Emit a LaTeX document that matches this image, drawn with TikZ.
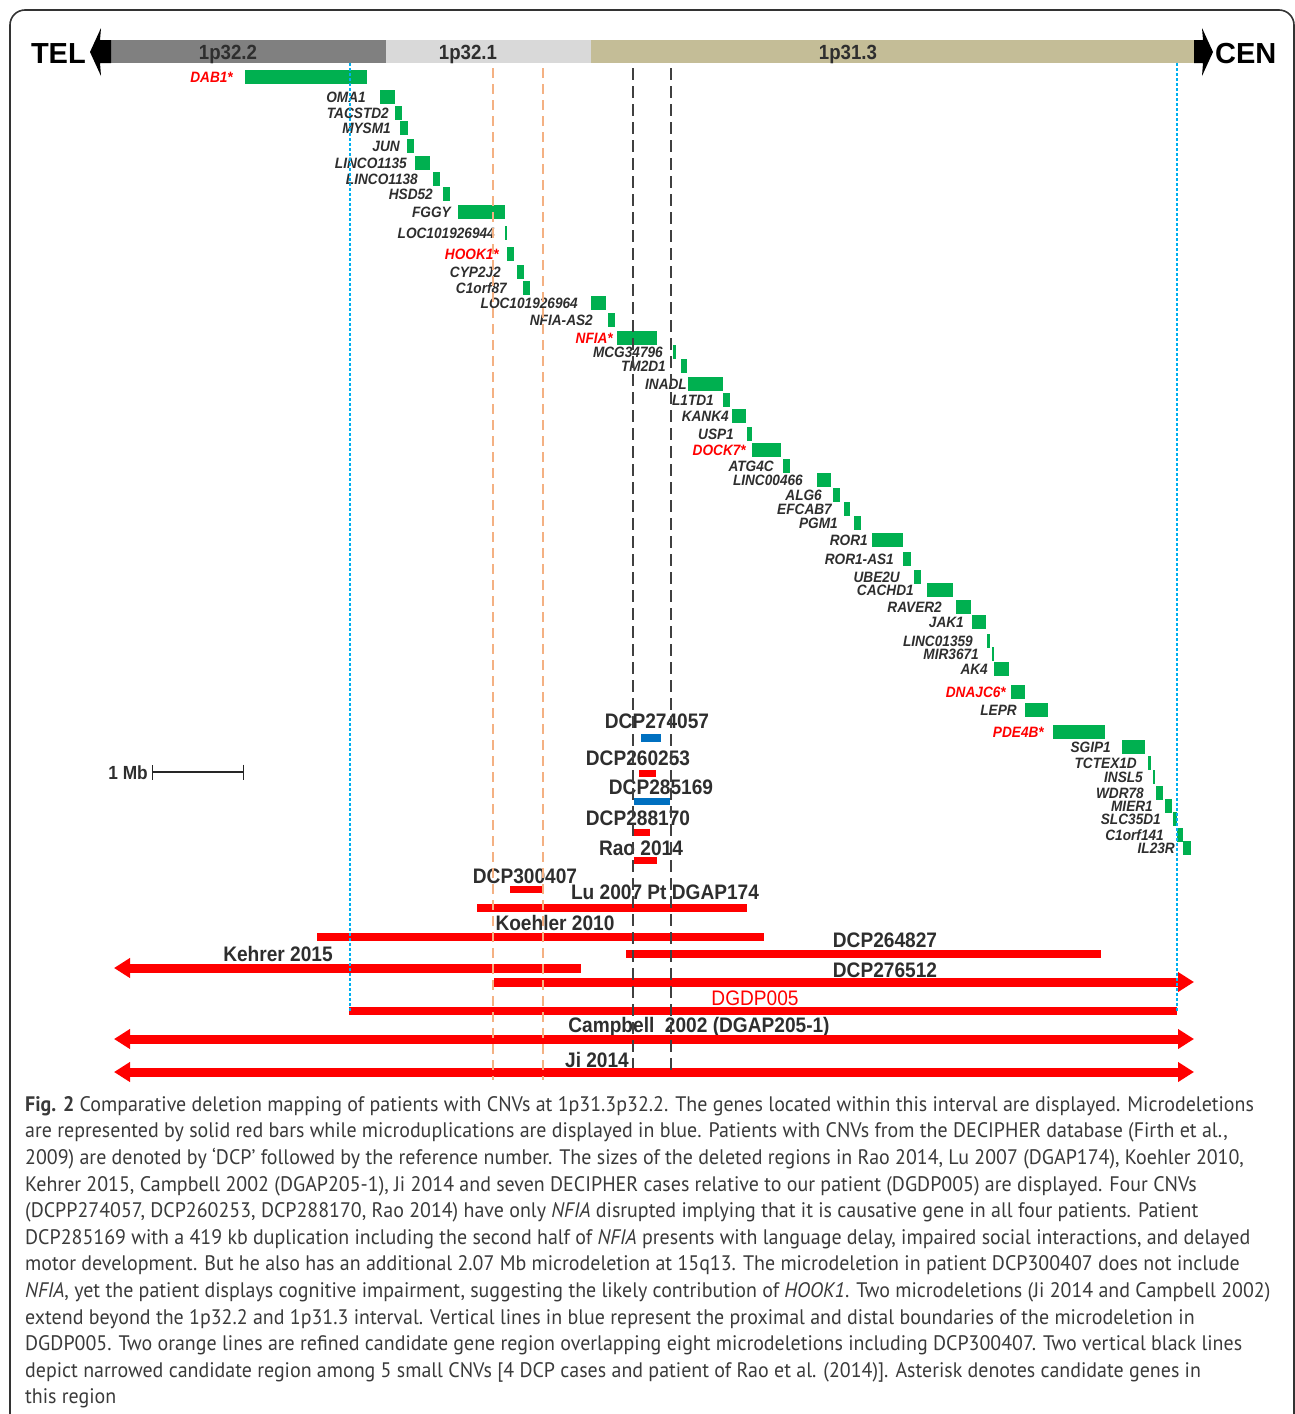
\documentclass[tikz,border=0pt]{standalone}
\usepackage{fontspec}
\setmainfont{PT Sans}[FakeStretch=0.95]
\newfontfamily\arialfont{Liberation Sans}
\newfontfamily\narrowfont{Liberation Sans}[FakeStretch=0.91]
\usetikzlibrary{arrows.meta}

\definecolor{bandA}{HTML}{808080}
\definecolor{bandB}{HTML}{D9D9D9}
\definecolor{bandC}{HTML}{C4BD97}
\definecolor{genegreen}{HTML}{00B050}
\definecolor{genetxt}{HTML}{2E2E2E}
\definecolor{dupblue}{HTML}{0070C0}
\definecolor{delred}{HTML}{FF0000}
\definecolor{bndblue}{HTML}{00B0F0}
\definecolor{candorange}{HTML}{F4B183}
\definecolor{captxt}{HTML}{3A3A3A}

\begin{document}
\begin{tikzpicture}[x=1pt, y=-1pt,
    genelab/.style={font=\narrowfont\bfseries\itshape\fontsize{15}{16}\selectfont,
      inner sep=0pt, text height=10.7pt, text depth=0pt, anchor=east},
    cnvlab/.style={font=\narrowfont\bfseries\fontsize{21}{22}\selectfont, text=genetxt,
      inner sep=0pt, text height=15pt, text depth=0pt},
    bandlab/.style={font=\narrowfont\bfseries\fontsize{20.5}{21}\selectfont, text=genetxt,
      inner sep=0pt, text height=14.7pt, text depth=0pt},
    endlab/.style={font=\arialfont\bfseries\fontsize{29}{30}\selectfont, text=black,
      inner sep=0pt, text height=20.8pt, text depth=0pt},
    delbar/.style={delred, line width=8pt},
    dupbar/.style={dupblue, line width=8pt},
    longbar/.style={delred, line width=9pt},
    bndline/.style={bndblue, line width=1.4pt, dash pattern=on 3pt off 2pt},
    candline/.style={candorange, line width=1.6pt, dash pattern=on 10pt off 6pt},
    narrowline/.style={black!75, line width=1.8pt, dash pattern=on 12pt off 6pt},
    captext/.style={font=\fontsize{21}{26.6}\selectfont, text=captxt, align=left, inner sep=0pt}]

  \useasboundingbox (0,0) rectangle (1295,1414);

  % frame, open at the bottom
  \draw[black!80, line width=1.6pt, rounded corners=15pt] (10,1420) -- (10,10) -- (1294,10) -- (1294,1420);

  % chromosome band
  \fill[bandA] (111,40) rectangle (386,63);
  \fill[bandB] (386,40) rectangle (591,63);
  \fill[bandC] (591,40) rectangle (1195,63);
  \node[bandlab] (b322) at (228,52) {1p32.2};
  \node[bandlab] (b321) at (468,52) {1p32.1};
  \node[bandlab] (b313) at (848,52) {1p31.3};
  \fill[black] (90,52) -- (101,28) -- (100,40) -- (111,40) -- (111,63) -- (100,63) -- (101,76) -- cycle;
  \fill[black] (1213,52) -- (1202,28) -- (1203,40) -- (1194,40) -- (1194,63) -- (1203,63) -- (1202,76) -- cycle;
  \node[endlab, anchor=east] (tel) at (86,53) {TEL};
  \node[endlab, anchor=west] (cen) at (1215,53) {CEN};

  % genes: label / colour / label end / bar start / bar end / y
  \foreach \g/\c/\lx/\xa/\xb/\y [count=\i] in {
      DAB1*/delred/233/245/367/77, OMA1/genetxt/366/380/395/97,
      TACSTD2/genetxt/389/395/402/113, MYSM1/genetxt/391/400/408/128,
      JUN/genetxt/400/407/414/146, LINCO1135/genetxt/407/415/430/163,
      LINCO1138/genetxt/418/433/440/179, HSD52/genetxt/433/443/450/194,
      FGGY/genetxt/451/458/505/212, LOC101926944/genetxt/495/505/507/233,
      HOOK1*/delred/499/507/514/254, CYP2J2/genetxt/501/517/524/272,
      C1orf87/genetxt/507/523/530/288, LOC101926964/genetxt/578/591/606/303,
      NFIA-AS2/genetxt/593/608/615/320, NFIA*/delred/613/617/657/338,
      MCG34796/genetxt/663/673/676/352, TM2D1/genetxt/666/681/687/366,
      INADL/genetxt/687/688/723/384, L1TD1/genetxt/714/723/730/400,
      KANK4/genetxt/729/732/746/416, USP1/genetxt/734/747/752/434,
      DOCK7*/delred/746/752/781/450, ATG4C/genetxt/774/783/790/466,
      LINC00466/genetxt/803/817/831/480, ALG6/genetxt/822/833/840/495,
      EFCAB7/genetxt/832/844/850/509, PGM1/genetxt/838/854/861/523,
      ROR1/genetxt/868/872/903/540, ROR1-AS1/genetxt/894/903/911/559,
      UBE2U/genetxt/900/914/921/577, CACHD1/genetxt/914/927/953/590,
      RAVER2/genetxt/942/956/971/607, JAK1/genetxt/964/972/986/622,
      LINC01359/genetxt/973/987/990/641, MIR3671/genetxt/979/992/994/654,
      AK4/genetxt/988/994/1009/669, DNAJC6*/delred/1006/1011/1025/692,
      LEPR/genetxt/1017/1025/1048/710, PDE4B*/delred/1044/1053/1105/732,
      SGIP1/genetxt/1111/1122/1145/747, TCTEX1D/genetxt/1137/1148/1151/763,
      INSL5/genetxt/1143/1153/1155/777, WDR78/genetxt/1144/1156/1163/793,
      MIER1/genetxt/1153/1165/1172/806, SLC35D1/genetxt/1161/1173/1177/819,
      C1orf141/genetxt/1164/1177/1183/835, IL23R/genetxt/1175/1183/1191/848}
  {
    \fill[genegreen] (\xa,\y-7) rectangle (\xb,\y+7);
    \node[genelab, text=\c] (gene\i) at (\lx,\y) {\g};
  }

  % scale
  \node[cnvlab, anchor=east, font=\narrowfont\bfseries\fontsize{19}{20}\selectfont] (mb) at (148,772) {1 Mb};
  \coordinate (mbL) at (152,772);
  \coordinate (mbR) at (244,772);
  \draw[black!85, line width=1.3pt, {Bar[width=15pt]}-{Bar[width=15pt]}] (mbL) -- (mbR);

  % small CNVs
  \node[cnvlab] (c274057) at (657,721) {DCP274057};
  \draw[dupbar] (641,738) -- (661,738);
  \node[cnvlab] (c260253) at (638,758) {DCP260253};
  \draw[delbar, line width=7pt] (639,773) -- (656,773);
  \node[cnvlab] (c285169) at (661,787) {DCP285169};
  \draw[dupbar, line width=7pt] (634,801) -- (670,801);
  \node[cnvlab] (c288170) at (638,818) {DCP288170};
  \draw[delbar, line width=7pt] (633,832) -- (650,832);
  \node[cnvlab] (rao) at (641,848) {Rao 2014};
  \draw[delbar, line width=7pt] (634,860) -- (657,860);
  \node[cnvlab] (c300407) at (525,876) {DCP300407};
  \draw[delbar, line width=7pt] (510,889) -- (542,889);

  % large CNVs
  \node[cnvlab] (lu) at (665,892) {Lu 2007 Pt DGAP174};
  \draw[delbar] (477,908) -- (747,908);
  \node[cnvlab] (koehler) at (555,923) {Koehler 2010};
  \draw[delbar] (317,937) -- (764,937);
  \node[cnvlab] (c264827) at (885,940) {DCP264827};
  \draw[delbar] (626,954) -- (1101,954);
  \node[cnvlab] (kehrer) at (278,954) {Kehrer 2015};
  \draw[longbar, {Triangle[length=16pt, width=19pt]}-] (114,968) -- (581,968);
  \node[cnvlab] (c276512) at (885,970) {DCP276512};
  \draw[longbar, -{Triangle[length=16pt, width=19pt]}] (494,982) -- (1194,982);
  \node[cnvlab, text=delred, font=\narrowfont\fontsize{21}{22}\selectfont] (dgdp) at (755,998) {DGDP005};
  \draw[delbar] (349,1011) -- (1177,1011);
  \node[cnvlab] (campbell) at (699,1025) {Campbell\ \ 2002 (DGAP205-1)};
  \draw[longbar, {Triangle[length=16pt, width=19pt]}-{Triangle[length=16pt, width=19pt]}] (114,1039) -- (1194,1039);
  \node[cnvlab] (ji) at (597,1060) {Ji 2014};
  \draw[longbar, {Triangle[length=16pt, width=19pt]}-{Triangle[length=16pt, width=19pt]}] (114,1072) -- (1194,1072);

  % boundary and candidate lines
  \draw[bndline] (350,63) -- (350,1011);
  \draw[bndline] (1177,63) -- (1177,1011);
  \draw[candline] (493,68) -- (493,1080);
  \draw[candline] (543,68) -- (543,1080);
  \draw[narrowline] (633,68) -- (633,1068);
  \draw[narrowline] (671,68) -- (671,1070);

  % caption
  \node[captext, anchor=north west] (caption) at (25,1096) {%
    \textbf{Fig. 2} Comparative deletion mapping of patients with CNVs at 1p31.3p32.2. The genes located within this interval are displayed. Microdeletions\\
    are represented by solid red bars while microduplications are displayed in blue. Patients with CNVs from the DECIPHER database (Firth et al.,\\
    2009) are denoted by ‘DCP’ followed by the reference number. The sizes of the deleted regions in Rao 2014, Lu 2007 (DGAP174), Koehler 2010,\\
    Kehrer 2015, Campbell 2002 (DGAP205-1), Ji 2014 and seven DECIPHER cases relative to our patient (DGDP005) are displayed. Four CNVs\\
    (DCPP274057, DCP260253, DCP288170, Rao 2014) have only \textit{NFIA} disrupted implying that it is causative gene in all four patients. Patient\\
    DCP285169 with a 419 kb duplication including the second half of \textit{NFIA} presents with language delay, impaired social interactions, and delayed\\
    motor development. But he also has an additional 2.07 Mb microdeletion at 15q13. The microdeletion in patient DCP300407 does not include\\
    \textit{NFIA}, yet the patient displays cognitive impairment, suggesting the likely contribution of \textit{HOOK1}. Two microdeletions (Ji 2014 and Campbell 2002)\\
    extend beyond the 1p32.2 and 1p31.3 interval. Vertical lines in blue represent the proximal and distal boundaries of the microdeletion in\\
    DGDP005. Two orange lines are refined candidate gene region overlapping eight microdeletions including DCP300407. Two vertical black lines\\
    depict narrowed candidate region among 5 small CNVs [4 DCP cases and patient of Rao et al. (2014)]. Asterisk denotes candidate genes in\\
    this region};
\end{tikzpicture}
\end{document}
